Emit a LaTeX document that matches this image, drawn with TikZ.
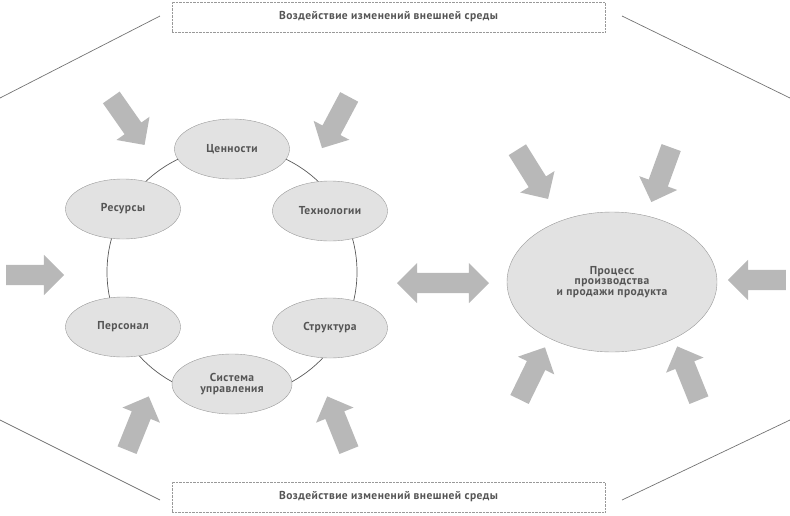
\documentclass[tikz,border=0pt]{standalone}
\usepackage{fontspec}
\setmainfont[LetterSpace=4]{PT Sans}
\usetikzlibrary{shapes.arrows,shapes.geometric}
\definecolor{ar}{HTML}{B8B8B8}
\definecolor{el}{HTML}{E2E2E2}
\definecolor{tx}{HTML}{555555}
\begin{document}
\begin{tikzpicture}[x=1pt,y=-1pt,
 ell/.style={ellipse,draw=gray!80,fill=el,minimum width=115pt,minimum height=60pt,text=tx,font=\bfseries\fontsize{11.5}{12.5}\selectfont,align=center,inner sep=0pt},
 bar/.style={single arrow,fill=ar,draw=none,inner sep=10pt,single arrow head extend=10pt,single arrow head indent=0pt,minimum height=58pt,anchor=center,shape border rotate=0},
 dbar/.style={double arrow,fill=ar,draw=none,inner sep=10pt,double arrow head extend=10pt,minimum height=92pt},
 box/.style={draw=gray!80,densely dotted,minimum width=433pt,minimum height=30pt,text=tx,font=\bfseries\fontsize{11.5}{12.5}\selectfont},
 ln/.style={draw=gray!90!black,line width=0.7pt}]
\useasboundingbox (0,0) rectangle (790,515);
\node[box] (top) at (388.5,17) {Воздействие изменений внешней среды};
\node[box] (bot) at (388.5,497) {Воздействие изменений внешней среды};
\coordinate (tl1) at (0,98); \coordinate (tl2) at (160,16);
\coordinate (tr1) at (622,16); \coordinate (tr2) at (790,98);
\coordinate (bl1) at (0,420); \coordinate (bl2) at (160,500);
\coordinate (br1) at (622,500); \coordinate (br2) at (790,420);
\draw[ln] (tl1)--(tl2); \draw[ln] (tr1)--(tr2);
\draw[ln] (bl1)--(bl2); \draw[ln] (br1)--(br2);
\draw[ln,draw=gray!70!black] (232,272) circle (125);
\node[ell] (c) at (232,149) {Ценности};
\node[ell] (r) at (123,209) {Ресурсы};
\node[ell] (t) at (330,211) {Технологии};
\node[ell] (p) at (123,327) {Персонал};
\node[ell] (s) at (330,328) {Структура};
\node[ell,minimum width=120pt] (u) at (232,384) {Система\\[-2pt]управления};
\node[ell,minimum width=210pt,minimum height=140pt] (pr) at (612,282) {Процесс\\[-2pt]производства\\[-2pt]и продажи продукта};
\node[bar,rotate=-55] (a1) at (125,117) {};
\node[bar,rotate=-118] (a2) at (338,118) {};
\node[bar,rotate=0] (a3) at (30,275) {};
\node[bar,rotate=68] (a4) at (136,428) {};
\node[bar,rotate=112] (a5) at (340,428) {};
\node[dbar] (a6) at (443,283) {};
\node[bar,rotate=-58] (a7) at (530,170) {};
\node[bar,rotate=-110] (a8) at (663,170) {};
\node[bar,rotate=180] (a9) at (762,280) {};
\node[bar,rotate=64] (a10) at (530,378) {};
\node[bar,rotate=112] (a11) at (690,378) {};
\end{tikzpicture}
\end{document}
